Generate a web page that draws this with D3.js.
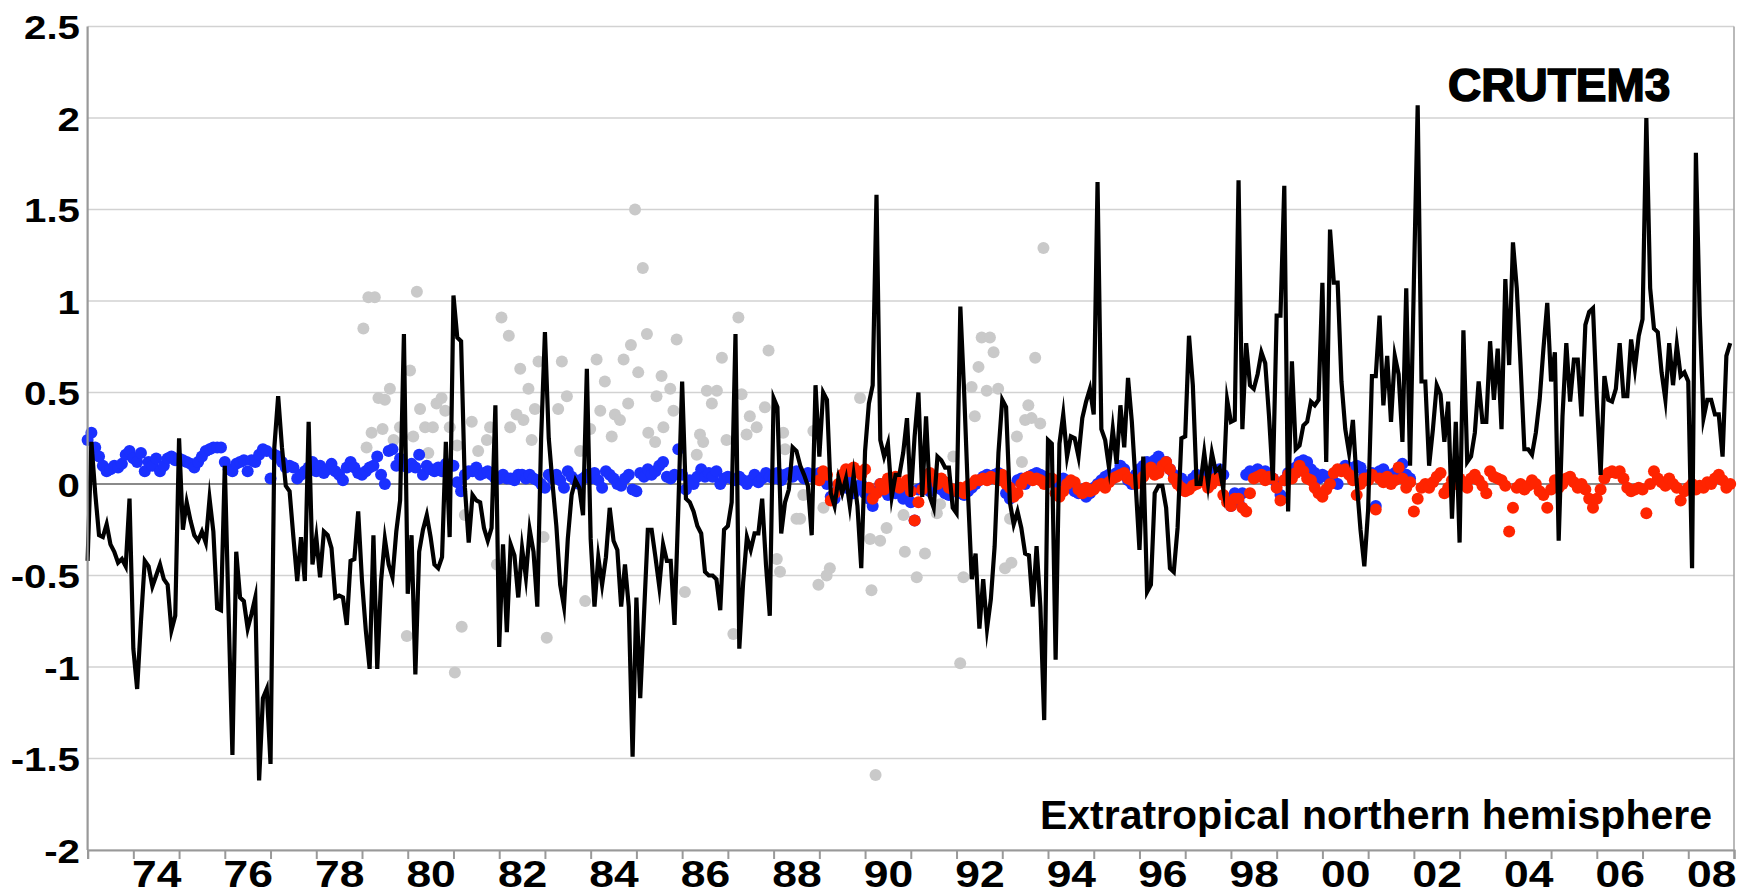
<!DOCTYPE html>
<html><head><meta charset="utf-8">
<script src="https://cdn.jsdelivr.net/npm/d3@7/dist/d3.min.js"></script>
<style>
html,body{margin:0;padding:0;background:#fff;}
svg{display:block;}
</style></head>
<body>
<svg id="chart" width="1749" height="894"></svg>
<script>
// ---------- DATA ----------
const startYear = 1973; // monthly series start (January 1973)
const yTicks = [-2, -1.5, -1, -0.5, 0, 0.5, 1, 1.5, 2, 2.5];
const yTickLabels = ["-2", "-1.5", "-1", "-0.5", "0", "0.5", "1", "1.5", "2", "2.5"];
const tickYears = d3.range(1973, 2010);
const labelYears = [1974,1976,1978,1980,1982,1984,1986,1988,1990,1992,1994,1996,1998,2000,2002,2004,2006,2008];
const labelTexts = ["74","76","78","80","82","84","86","88","90","92","94","96","98","00","02","04","06","08"];

// black line: monthly anomaly (Jan 1973 .. Dec 2008)
const crutem = [
-0.42,0.23,-0.05,-0.28,-0.29,-0.22,-0.33,-0.37,-0.43,-0.41,-0.45,-0.08,
-0.9,-1.12,-0.75,-0.42,-0.45,-0.56,-0.5,-0.44,-0.52,-0.55,-0.8,-0.72,
0.25,-0.25,-0.1,-0.2,-0.28,-0.31,-0.26,-0.32,-0.08,-0.26,-0.68,-0.69,
0.1,-0.71,-1.48,-0.37,-0.62,-0.64,-0.79,-0.71,-0.62,-1.62,-1.17,-1.12,
-1.53,0.2,0.48,0.2,-0.01,-0.04,-0.29,-0.53,-0.29,-0.53,0.34,-0.44,
-0.29,-0.51,-0.26,-0.28,-0.35,-0.62,-0.61,-0.62,-0.77,-0.42,-0.41,-0.15,
-0.53,-0.8,-1.01,-0.28,-1.01,-0.53,-0.3,-0.44,-0.51,-0.26,-0.09,0.82,
-0.6,-0.28,-1.04,-0.37,-0.25,-0.17,-0.29,-0.44,-0.46,-0.4,0.23,-0.29,
1.03,0.8,0.78,-0.02,-0.32,-0.06,-0.09,-0.1,-0.24,-0.31,-0.24,0.43,
-0.89,-0.33,-0.81,-0.33,-0.39,-0.62,-0.35,-0.51,-0.25,-0.37,-0.67,0.25,
0.83,0.25,0.0,-0.23,-0.55,-0.67,-0.3,-0.06,0.02,-0.02,-0.17,0.63,
-0.3,-0.67,-0.4,-0.55,-0.4,-0.13,-0.31,-0.36,-0.67,-0.44,-0.67,-1.49,
-0.62,-1.17,-0.71,-0.25,-0.25,-0.4,-0.56,-0.33,-0.42,-0.42,-0.77,-0.13,
0.56,-0.08,-0.1,-0.15,-0.23,-0.27,-0.48,-0.5,-0.5,-0.52,-0.69,-0.25,
-0.23,-0.1,0.82,-0.9,-0.54,-0.29,-0.36,-0.27,-0.27,-0.08,-0.44,-0.72,
0.47,0.42,-0.27,-0.1,-0.03,0.2,0.18,0.1,0.05,-0.01,-0.28,0.54,
0.15,0.5,0.46,-0.05,-0.12,0.03,-0.05,0.03,-0.12,0.05,-0.12,-0.46,
0.18,0.44,0.54,1.58,0.24,0.15,0.22,-0.07,0.05,0.05,0.17,0.36,
-0.07,0.26,0.5,-0.07,0.37,-0.07,-0.13,0.15,0.13,0.09,0.09,-0.13,
-0.16,0.97,0.5,-0.05,-0.52,-0.38,-0.79,-0.52,-0.79,-0.63,-0.34,0.17,
0.46,0.42,-0.1,-0.22,-0.15,-0.24,-0.38,-0.39,-0.67,-0.34,-0.67,-1.29,
0.24,0.22,-0.96,0.22,0.38,0.15,0.26,0.25,0.15,0.36,0.45,0.52,
0.38,1.65,0.3,0.24,0.09,0.3,0.11,0.43,0.2,0.58,0.34,0.0,
-0.36,0.15,-0.59,-0.55,-0.05,-0.01,-0.01,-0.13,-0.46,-0.48,-0.24,0.25,
0.26,0.81,0.54,0.0,0.0,0.17,0.0,0.17,0.07,0.09,-0.03,0.46,
0.34,0.35,1.66,0.3,0.77,0.54,0.52,0.6,0.72,0.66,0.37,0.02,
0.92,0.92,1.63,-0.15,0.67,0.19,0.21,0.32,0.34,0.45,0.43,0.46,
1.1,0.12,1.39,1.1,1.1,0.56,0.3,0.17,0.35,0.01,-0.25,-0.45,
-0.14,0.59,0.59,0.92,0.43,0.7,0.34,0.7,0.6,0.23,1.07,0.1,
1.1,2.07,0.56,0.56,0.1,0.3,0.54,0.49,0.23,0.45,-0.19,0.34,
-0.32,0.84,0.12,0.15,0.28,0.56,0.34,0.34,0.78,0.46,0.74,0.3,
1.12,0.65,1.32,1.07,0.65,0.19,0.19,0.16,0.28,0.46,0.74,0.99,
0.56,0.72,-0.31,0.37,0.77,0.45,0.68,0.68,0.37,0.87,0.94,0.96,
0.46,0.05,0.59,0.46,0.45,0.52,0.77,0.48,0.48,0.79,0.63,0.81,
0.9,2.0,1.07,0.85,0.83,0.61,0.46,0.77,0.54,0.76,0.59,0.61,
0.56,-0.46,1.81,0.92,0.36,0.46,0.46,0.38,0.38,0.15,0.7,0.77
];

// blue dots: monthly, from Jan 1973
const blueStart = 1973;
const blueValues = [
0.24,0.28,0.2,0.15,0.1,0.07,0.08,0.1,0.09,0.11,0.16,0.18,
0.14,0.12,0.17,0.07,0.12,0.1,0.14,0.07,0.1,0.14,0.15,0.13,
0.14,0.13,0.12,0.11,0.09,0.12,0.15,0.18,0.19,0.2,0.2,0.2,
0.12,0.08,0.07,0.11,0.12,0.13,0.07,0.13,0.12,0.16,0.19,0.18,
0.03,0.16,0.15,0.12,0.09,0.1,0.09,0.03,0.05,0.07,0.09,0.12,
0.07,0.1,0.06,0.08,0.11,0.07,0.05,0.02,0.09,0.12,0.09,0.06,
0.05,0.07,0.09,0.1,0.15,0.05,0.0,0.18,0.19,0.1,0.14,0.1,
0.09,0.11,0.09,0.16,0.05,0.1,0.08,0.07,0.09,0.07,0.11,0.1,
0.1,0.01,-0.04,0.05,0.07,0.07,0.09,0.05,0.06,0.07,0.05,0.03,
0.03,0.05,0.03,0.03,0.02,0.05,0.05,0.03,0.05,0.03,0.02,0.0,
-0.02,0.05,0.03,0.05,0.02,-0.02,0.07,0.04,0.02,0.0,0.03,0.05,
0.03,0.06,0.02,-0.02,0.07,0.05,0.03,0.0,-0.01,0.03,0.05,-0.03,
-0.04,0.06,0.04,0.08,0.05,0.07,0.1,0.12,0.04,0.03,0.05,0.19,
0.05,-0.03,0.02,0.0,0.04,0.08,0.04,0.06,0.04,0.07,0.0,0.03,
0.04,0.03,0.02,0.04,0.02,0.0,0.02,0.05,0.01,0.03,0.06,0.04,
0.03,0.06,0.02,0.05,0.06,0.04,0.07,0.05,0.03,0.06,0.04,0.05,
0.06,0.03,0.0,-0.07,-0.08,-0.03,0.0,-0.02,0.02,-0.05,-0.03,0.0,
-0.05,-0.08,-0.12,-0.04,0.0,-0.03,-0.06,-0.02,-0.05,-0.03,-0.08,-0.06,
-0.1,-0.2,-0.03,-0.02,0.0,-0.04,-0.02,-0.01,-0.03,-0.05,-0.06,-0.04,
-0.03,-0.05,-0.06,-0.04,-0.02,0.0,0.02,0.04,0.05,0.03,0.05,0.06,
0.02,-0.05,-0.08,-0.06,0.02,0.03,0.0,0.04,0.05,0.06,0.05,0.04,
0.03,0.02,0.01,0.02,0.03,0.0,-0.02,-0.04,-0.05,-0.03,-0.07,-0.05,
-0.02,0.0,0.02,0.04,0.05,0.03,0.06,0.1,0.08,0.02,0.0,0.05,
0.08,0.1,0.12,0.09,0.13,0.15,0.1,0.12,0.08,0.05,0.02,0.03,
0.0,-0.02,0.03,0.05,0.04,0.03,0.06,0.05,0.07,0.08,0.05,-0.08,
-0.12,-0.05,-0.1,-0.05,0.05,0.07,0.06,0.08,0.06,0.07,0.05,0.03,
0.0,-0.06,0.02,0.06,0.07,0.09,0.12,0.13,0.12,0.08,0.06,0.03,
0.05,0.04,0.02,0.01,0.0,0.08,0.1,0.09,0.08,0.1,0.09,0.05,
0.03,0.06,-0.12,0.07,0.08,0.05,0.04,0.06,0.07,0.11,0.05,0.03
];

// red dots: monthly, from Jan 1989
const redStart = 1989;
const redValues = [
0.02,0.07,0.05,-0.09,-0.05,0.0,0.05,0.08,0.07,0.09,0.07,0.05,
0.08,-0.02,-0.08,-0.05,0.0,-0.03,0.03,0.0,0.04,-0.02,0.0,0.02,
-0.04,-0.2,-0.1,-0.03,0.02,0.06,0.04,0.0,0.03,0.01,-0.02,-0.03,
-0.04,-0.02,-0.05,-0.01,0.0,0.02,0.02,0.03,0.02,0.04,0.03,0.02,
0.05,0.0,-0.02,-0.07,-0.05,0.0,0.03,0.04,0.02,0.03,0.02,0.0,
0.01,0.03,-0.05,-0.07,-0.04,0.0,0.02,0.01,-0.03,-0.05,-0.02,-0.04,
-0.03,-0.01,0.0,-0.02,0.01,0.03,0.04,0.05,0.06,0.03,0.02,0.0,
0.02,0.04,0.07,0.09,0.05,0.06,0.1,0.12,0.08,0.03,0.0,-0.02,
-0.04,-0.03,-0.01,0.0,0.02,0.01,-0.02,0.0,0.03,0.02,-0.06,-0.1,
-0.12,-0.08,-0.08,-0.13,-0.15,-0.05,0.03,0.04,0.05,0.02,0.04,0.03,
-0.02,-0.09,0.02,0.05,0.03,0.06,0.1,0.07,0.03,0.02,-0.02,-0.05,
-0.07,-0.03,0.0,0.06,0.08,0.07,0.08,0.05,0.02,-0.06,0.0,0.03,
0.02,0.05,-0.14,0.03,0.01,0.04,0.0,0.02,0.09,0.03,-0.02,0.01,
-0.15,-0.08,-0.02,0.0,-0.02,0.01,0.04,0.06,-0.05,-0.02,0.02,0.0,
0.03,0.01,-0.02,0.03,0.05,0.02,-0.01,-0.05,0.07,0.04,0.03,0.02,
-0.01,-0.26,-0.13,-0.02,0.0,-0.03,-0.01,0.02,0.0,-0.04,-0.06,-0.13,
-0.03,0.02,-0.02,0.0,0.03,0.04,0.01,-0.02,0.0,-0.03,-0.08,-0.13,
-0.08,-0.03,0.03,0.06,0.07,0.06,0.07,0.03,-0.02,-0.04,-0.03,-0.02,
-0.03,-0.16,0.0,0.07,0.03,0.01,-0.01,0.03,0.0,-0.02,-0.09,-0.04,
-0.02,0.0,-0.03,-0.01,-0.02,0.01,0.0,0.03,0.05,0.02,-0.02,0.0
];

// grey dots: scattered (decimal year, value)
const greyYears = [
1979.03,1979.14,1979.28,1980.20,1980.05,1979.61,1979.36,1979.50,1979.21,1979.45,1979.69,1979.83,
1980.12,1980.27,1980.38,1980.55,1980.63,1980.74,1980.82,1980.92,1980.45,1981.40,1981.54,1981.73,
1981.80,1982.05,1982.21,1982.46,1982.64,1982.86,1982.78,1982.71,1982.38,1982.24,1982.53,1981.25,
1981.95,1982.97,1979.98,1981.18,1981.03,1983.04,1981.08,1979.10,
1984.97,1985.14,1987.23,1987.89,1985.23,1984.88,1985.88,1984.72,1984.13,1983.37,1985.04,1985.55,
1984.31,1986.87,1985.74,1983.48,1983.29,1984.82,1984.21,1984.53,1984.64,1985.44,1986.54,1986.76,
1986.65,1987.30,1987.81,1985.81,1987.48,1987.63,1985.26,1985.41,1985.59,1986.39,1986.46,1986.97,
1987.41,1984.46,1983.99,1983.77,1986.32,1983.88,1986.06,1987.12,1988.07,1988.14,
1989.89,1988.87,1988.21,1988.25,1988.65,1989.09,1988.50,1988.58,1988.98,1989.23,1989.16,1990.14,
1990.11,1990.33,1990.47,1990.87,1991.31,1991.13,1990.84,1991.57,1991.64,1991.93,1992.15,1992.08,
1992.55,1992.73,1992.81,1992.48,1992.33,1992.66,1992.91,1992.40,1993.06,1990.23,
1993.90,1993.72,1993.57,1993.50,1993.64,1993.83,1993.32,1993.43,1993.17,1993.20
];
const greyValues = [
0.85,1.02,1.02,1.05,0.62,0.52,0.47,0.46,0.28,0.30,0.24,0.31,
0.26,0.41,0.31,0.31,0.44,0.47,0.40,0.31,0.17,0.34,0.18,0.24,
0.31,0.91,0.81,0.63,0.52,0.67,0.41,0.24,0.38,0.31,0.35,-0.17,
-0.44,-0.29,-0.83,-0.78,-1.03,-0.84,0.21,0.20,
1.50,1.18,0.91,0.73,0.82,0.76,0.79,0.68,0.68,0.67,0.61,0.59,
0.56,0.69,0.52,0.48,0.41,0.44,0.40,0.38,0.35,0.48,0.51,0.51,
0.44,0.49,0.42,0.40,0.37,0.31,0.28,0.23,0.31,0.27,0.23,0.24,
0.27,0.26,0.30,0.18,0.16,-0.64,-0.59,-0.82,-0.41,-0.48,
0.47,0.29,0.28,0.19,-0.06,-0.13,-0.19,-0.19,-0.55,-0.46,-0.50,-0.58,
-0.30,-0.31,-0.24,-0.37,-0.38,-0.51,-0.17,-0.16,-0.11,0.15,-0.51,-0.98,
0.80,0.80,0.72,0.64,0.53,0.51,0.52,0.37,-0.46,-1.59,
1.29,0.69,0.43,0.35,0.36,0.33,0.26,0.12,-0.19,-0.43
];

const titleText = "CRUTEM3";
const regionText = "Extratropical northern hemisphere";

// ---------- CHART ----------
const svg = d3.select("#chart");
const plotLeft = 87.6, plotRight = 1734, plotTop = 26.5, plotBottom = 850;
const x = d3.scaleLinear().domain([1973, 2009]).range([plotLeft, plotRight]);
const y = d3.scaleLinear().domain([-2, 2.5]).range([plotBottom, plotTop]);
const monthT = (start, i) => start + i / 12;
const dotR = 6;

// gridlines
const grid = svg.append("g");
grid.selectAll("line").data(yTicks).join("line")
  .attr("x1", plotLeft).attr("x2", plotRight)
  .attr("y1", d => y(d)).attr("y2", d => y(d))
  .attr("stroke", d => d === 0 ? "#8a8a8a" : "#d2d2d2")
  .attr("stroke-width", d => d === 0 ? 2.2 : 1.6);

// right frame
svg.append("line").attr("x1", plotRight).attr("x2", plotRight).attr("y1", plotTop).attr("y2", plotBottom)
  .attr("stroke", "#a8a8a8").attr("stroke-width", 1.6);

// grey dots
svg.append("g").selectAll("circle").data(greyYears.map((t, i) => [t, greyValues[i]])).join("circle")
  .attr("cx", d => x(d[0])).attr("cy", d => y(d[1])).attr("r", dotR).attr("fill", "#c9c9c9");

// blue dots
svg.append("g").selectAll("circle").data(blueValues).join("circle")
  .attr("cx", (d, i) => x(monthT(blueStart, i))).attr("cy", d => y(d)).attr("r", dotR).attr("fill", "#1a30ff");

// red dots
svg.append("g").selectAll("circle").data(redValues).join("circle")
  .attr("cx", (d, i) => x(monthT(redStart, i))).attr("cy", d => y(d)).attr("r", dotR).attr("fill", "#ff2400");

// black line
const line = d3.line().x((d, i) => x(monthT(startYear, i))).y(d => y(d));
svg.append("path").datum(crutem).attr("d", line)
  .attr("fill", "none").attr("stroke", "#000").attr("stroke-width", 4.2)
  .attr("stroke-linejoin", "miter").attr("stroke-miterlimit", 10);

// left axis line
svg.append("line").attr("x1", plotLeft).attr("x2", plotLeft).attr("y1", plotTop).attr("y2", plotBottom)
  .attr("stroke", "#999").attr("stroke-width", 2.2);

// x ticks (every year)
const xTickAxis = d3.axisBottom(x).tickValues(tickYears).tickSize(9).tickFormat("");
const gxt = svg.append("g").attr("transform", `translate(0,${plotBottom})`).call(xTickAxis);
gxt.select(".domain").attr("stroke", "#999").attr("stroke-width", 2.2);
gxt.selectAll(".tick line").attr("stroke", "#999").attr("stroke-width", 2);

// x labels centred in the labelled year
const xLabAxis = d3.axisBottom(x).tickValues(labelYears.map(v => v + 0.5)).tickSize(0).tickPadding(0)
  .tickFormat((d, i) => labelTexts[i]);
const gxl = svg.append("g").attr("transform", `translate(0,${plotBottom})`).call(xLabAxis);
gxl.select(".domain").remove();
gxl.selectAll("text")
  .attr("y", 0).attr("dy", null)
  .attr("transform", "translate(0,37) scale(1.2,1)")
  .attr("font-family", "'Liberation Sans Narrow','Arial Narrow',sans-serif")
  .attr("font-weight", "bold").attr("font-size", 37).attr("fill", "#000");

// y labels
const yAxis = d3.axisLeft(y).tickValues(yTicks).tickSize(0).tickPadding(0)
  .tickFormat((d, i) => yTickLabels[i]);
const gy = svg.append("g").attr("transform", "translate(80,0)").call(yAxis);
gy.select(".domain").remove();
gy.selectAll("text")
  .attr("x", 0).attr("dy", null).attr("y", 0)
  .attr("transform", "translate(0,12) scale(1.22,1)")
  .attr("text-anchor", "end")
  .attr("font-family", "'Liberation Sans',Arial,sans-serif")
  .attr("font-weight", "bold").attr("font-size", 33).attr("fill", "#000");

// titles
svg.append("text").attr("x", 1448).attr("y", 101).text(titleText)
  .attr("font-family", "'Liberation Sans',Arial,sans-serif").attr("font-weight", "bold")
  .attr("font-size", 46).attr("fill", "#000").attr("stroke", "#000").attr("stroke-width", 1.6);
svg.append("text").attr("x", 1712).attr("y", 829).attr("text-anchor", "end").text(regionText)
  .attr("font-family", "'Liberation Sans',Arial,sans-serif").attr("font-weight", "bold")
  .attr("font-size", 41).attr("fill", "#000");
</script>
</body></html>
